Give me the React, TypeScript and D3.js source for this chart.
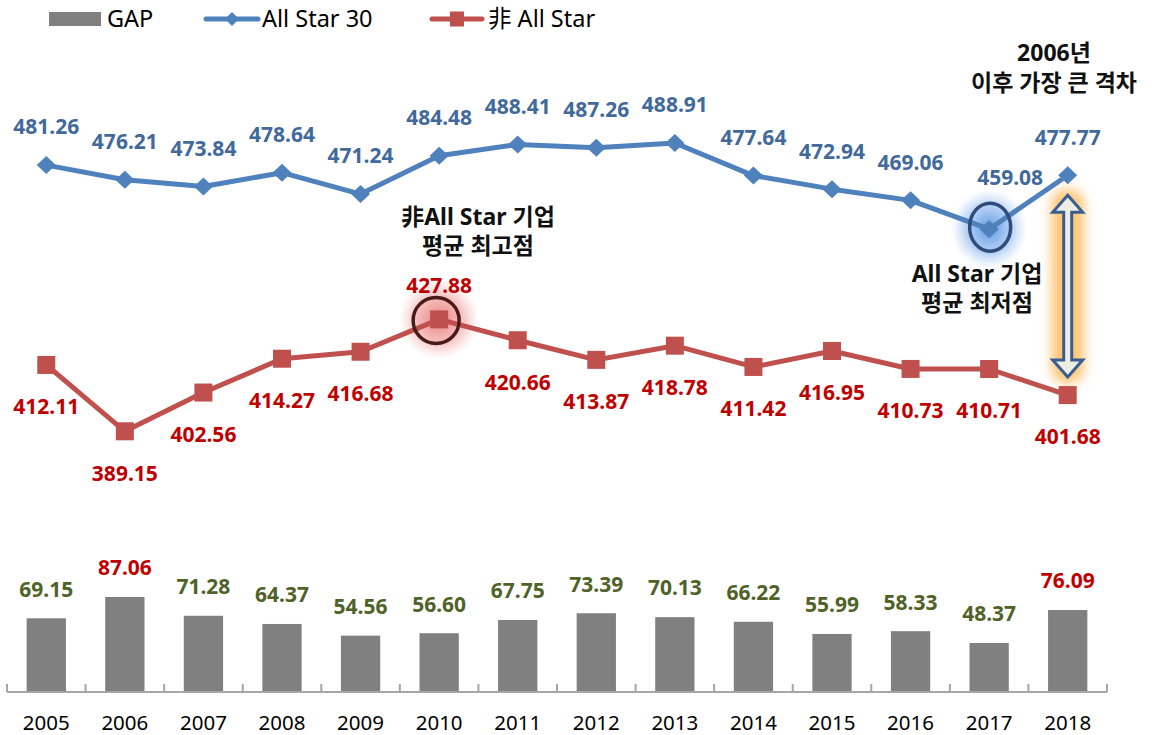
import React from 'react';
import * as d3 from 'd3';

const years = ['2005','2006','2007','2008','2009','2010','2011','2012','2013','2014','2015','2016','2017','2018'];
const allStar = [481.26,476.21,473.84,478.64,471.24,484.48,488.41,487.26,488.91,477.64,472.94,469.06,459.08,477.77];
const nonAllStar = [412.11,389.15,402.56,414.27,416.68,427.88,420.66,413.87,418.78,411.42,416.95,410.73,410.71,401.68];
const gap = [69.15,87.06,71.28,64.37,54.56,56.60,67.75,73.39,70.13,66.22,55.99,58.33,48.37,76.09];
const gapHighlight = ['2006','2018'];
const legendLabels = ['GAP','All Star 30','非 All Star'];

const W = 1152, H = 735;
const FONT = "'Noto Sans', 'Noto Sans CJK KR', sans-serif";
const BLUE = '#4F81BD', RED = '#C0504D';
const BLUE_TXT = '#41699B', RED_TXT = '#C00000', GREEN_TXT = '#4F6228';

export default function App() {
  const x = d3.scaleBand<string>().domain(years).range([7, 1107]).paddingInner(0.5).paddingOuter(0.25);
  const cx = (yr: string) => (x(yr) as number) + x.bandwidth() / 2;
  const step = x.step();
  const yLine = d3.scaleLinear().domain([380, 500]).range([457.75, 110.95]);
  const yBar = d3.scaleLinear().domain([7.16, 87.06]).range([692, 597]);
  const line = d3.line<number>().x((_, i) => cx(years[i])).y(v => yLine(v));

  const i2010 = years.indexOf('2010');
  const i2017 = years.indexOf('2017');
  const i2018 = years.indexOf('2018');
  const ax = cx('2018');
  const arrTop = yLine(allStar[i2018]) + 20;
  const arrBot = yLine(nonAllStar[i2018]) - 18;
  const sw = 4, hw = 15, hl = 17;
  const arrowPath = `M${ax},${arrTop} L${ax + hw},${arrTop + hl} L${ax + sw},${arrTop + hl} L${ax + sw},${arrBot - hl} L${ax + hw},${arrBot - hl} L${ax},${arrBot} L${ax - hw},${arrBot - hl} L${ax - sw},${arrBot - hl} L${ax - sw},${arrTop + hl} L${ax - hw},${arrTop + hl} Z`;

  const diamond = 'M0,-9 L9.5,0 L0,9 L-9.5,0 Z';

  return (
    <svg width={W} height={H} style={{ display: 'block', position: 'absolute', left: 0, top: 0, background: '#fff' }} fontFamily={FONT}>
      <defs>
        <radialGradient id="gRed">
          <stop offset="0%" stopColor="#E05858" stopOpacity={0.75} />
          <stop offset="55%" stopColor="#E86A6A" stopOpacity={0.45} />
          <stop offset="100%" stopColor="#F09090" stopOpacity={0} />
        </radialGradient>
        <radialGradient id="gBlue">
          <stop offset="0%" stopColor="#3F86E0" stopOpacity={0.85} />
          <stop offset="60%" stopColor="#6FA4EA" stopOpacity={0.5} />
          <stop offset="100%" stopColor="#9CC2F2" stopOpacity={0} />
        </radialGradient>
        <filter id="blurO" x="-100%" y="-20%" width="300%" height="140%">
          <feGaussianBlur stdDeviation="6" />
        </filter>
      </defs>

      {/* legend */}
      <g fontSize={23.5} fill="#000">
        <rect x={49} y={12} width={52} height={14} fill="#808080" />
        <text x={107} y={27}>{legendLabels[0]}</text>
        <line x1={206} x2={258} y1={19} y2={19} stroke={BLUE} strokeWidth={5} strokeLinecap="round" />
        <path d="M0,-7 L7,0 L0,7 L-7,0 Z" transform="translate(232,19)" fill={BLUE} />
        <text x={262} y={27}>{legendLabels[1]}</text>
        <line x1={432} x2={482} y1={19} y2={19} stroke={RED} strokeWidth={5} strokeLinecap="round" />
        <rect x={450} y={11.5} width={14} height={15} fill={RED} />
        <text x={488} y={27}>{legendLabels[2]}</text>
      </g>

      {/* bars */}
      {years.map((yr, i) => (
        <rect key={'b' + yr} x={x(yr)} y={yBar(gap[i])} width={x.bandwidth()} height={692 - yBar(gap[i])} fill="#808080" />
      ))}
      {years.map((yr, i) => (
        <text key={'bl' + yr} x={cx(yr)} y={yBar(gap[i]) - 29} dy="0.35em" textAnchor="middle" fontSize={21} fontWeight={700}
          fill={gapHighlight.includes(yr) ? RED_TXT : GREEN_TXT}>{gap[i].toFixed(2)}</text>
      ))}

      {/* x axis */}
      <line x1={7} x2={1107} y1={692} y2={692} stroke="#A6A6A6" strokeWidth={2} />
      {d3.range(years.length + 1).map(k => (
        <line key={'t' + k} x1={7 + k * step} x2={7 + k * step} y1={692} y2={684} stroke="#A6A6A6" strokeWidth={2} />
      ))}
      {years.map(yr => (
        <text key={'xl' + yr} x={cx(yr)} y={723} dy="0.35em" textAnchor="middle" fontSize={20.5} fill="#000">{yr}</text>
      ))}

      {/* glows */}
      <circle cx={cx('2010')} cy={yLine(nonAllStar[i2010])} r={40} fill="url(#gRed)" />
      <ellipse cx={cx('2017')} cy={yLine(allStar[i2017])} rx={38} ry={40} fill="url(#gBlue)" />
      <rect x={ax - 16} y={arrTop - 6} width={32} height={arrBot - arrTop + 12} rx={14} fill="#FFB95A" opacity={0.85} filter="url(#blurO)" />

      {/* lines */}
      <path d={line(allStar) as string} fill="none" stroke={BLUE} strokeWidth={5} strokeLinejoin="round" />
      <path d={line(nonAllStar) as string} fill="none" stroke={RED} strokeWidth={5} strokeLinejoin="round" />
      {years.map((yr, i) => (
        <path key={'d' + yr} d={diamond} transform={`translate(${cx(yr)},${yLine(allStar[i])})`} fill={BLUE} />
      ))}
      {years.map((yr, i) => (
        <rect key={'s' + yr} x={cx(yr) - 9} y={yLine(nonAllStar[i]) - 9} width={18} height={18} fill={RED} />
      ))}

      {/* rings */}
      <circle cx={cx('2010') - 3} cy={yLine(nonAllStar[i2010]) + 1} r={23} fill="none" stroke="#4A1A1A" strokeWidth={3.5} />
      <ellipse cx={cx('2017') + 1} cy={yLine(allStar[i2017]) - 2} rx={20.5} ry={24} fill="none" stroke="#2E4C7C" strokeWidth={3.5} />

      {/* arrow */}
      <path d={arrowPath} fill="#EDEDE4" stroke="#3A5F8F" strokeWidth={3} strokeLinejoin="miter" />

      {/* line labels */}
      {years.map((yr, i) => {
        const isLow = i === i2017;
        return (
          <text key={'al' + yr} x={cx(yr) + (isLow ? 21 : 0)} y={yLine(allStar[i]) - (isLow ? 52 : 38)} dy="0.35em"
            textAnchor="middle" fontSize={21} fontWeight={700} fill={BLUE_TXT}>{allStar[i].toFixed(2)}</text>
        );
      })}
      {years.map((yr, i) => {
        const isHigh = i === i2010;
        return (
          <text key={'nl' + yr} x={cx(yr)} y={yLine(nonAllStar[i]) + (isHigh ? -34 : 42)} dy="0.35em"
            textAnchor="middle" fontSize={21} fontWeight={700} fill={RED_TXT}>{nonAllStar[i].toFixed(2)}</text>
        );
      })}

      {/* annotations */}
      <g fontSize={23} fontWeight={700} fill="#111" textAnchor="middle">
        <text x={1054} y={53} dy="0.35em">2006년</text>
        <text x={1054} y={83} dy="0.35em">이후 가장 큰 격차</text>
        <text x={478} y={217} dy="0.35em">非All Star 기업</text>
        <text x={478} y={246} dy="0.35em">평균 최고점</text>
        <text x={977} y={274} dy="0.35em">All Star 기업</text>
        <text x={977} y={303} dy="0.35em">평균 최저점</text>
      </g>
    </svg>
  );
}
